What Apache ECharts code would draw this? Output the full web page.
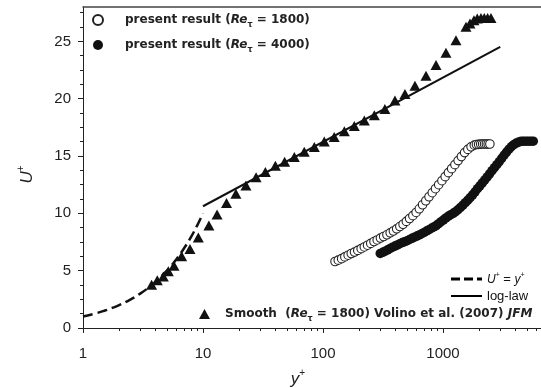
<!DOCTYPE html>
<html><head><meta charset="utf-8">
<script src="https://cdn.jsdelivr.net/npm/echarts@6/dist/echarts.min.js"></script>
<style>html,body{margin:0;padding:0;background:#fff}#c{width:541px;height:388px}</style>
</head><body><div id="c"></div>
<script>
// ---- tick labels ----
const xMajorTicks = [1, 10, 100, 1000];
const xMinorTicks = [2,3,4,5,6,7,8,9,20,30,40,50,60,70,80,90,200,300,400,500,600,700,800,900,2000,3000,4000,5000,6000];
const yTicks = [0, 5, 10, 15, 20, 25];

// ---- Smooth (Re_tau = 1800) Volino et al. (2007) JFM ----
const smoothX = [3.73,4.16,4.67,5.14,5.73,6.64,7.79,9.14,11.2,13.1,15.7,18.8,22.8,27.7,33.1,40.1,47.9,57.7,69.8,84.7,102.5,124,150.6,182.4,221,268,328,398,482,584,722,875,1059,1283,1555,1679,1812,1931,2073,2210,2355,2512];
const smoothU = [3.78,4.16,4.5,4.94,5.44,6.25,6.9,7.9,8.95,9.9,10.9,11.72,12.44,13.14,13.6,14.16,14.51,14.92,15.38,15.79,16.26,16.67,17.16,17.63,18.09,18.55,19.1,19.85,20.42,21.14,22.0,22.95,24.0,25.1,26.27,26.55,26.84,27.0,27.05,27.05,27.05,27.05];

// ---- present result (Re_tau = 1800), open circles ----
const re1800X = [126,134,143,152,162,172,183,195,208,221,235,250,266,283,301,320,341,363,386,411,437,465,495,527,561,597,635,676,719,765,814,866,921,980,1043,1110,1181,1257,1337,1423,1514,1611,1714,1824,1900,1980,2060,2140,2220,2300,2380,2460];
const re1800U = [5.8,5.92,6.05,6.2,6.35,6.5,6.62,6.77,6.92,7.07,7.22,7.38,7.54,7.68,7.84,7.98,8.13,8.3,8.46,8.65,8.85,9.05,9.3,9.55,9.8,10.08,10.4,10.75,11.1,11.45,11.8,12.15,12.5,12.85,13.2,13.55,13.9,14.25,14.6,14.95,15.3,15.58,15.8,15.95,16.0,16.02,16.04,16.05,16.05,16.05,16.05,16.05];

// ---- present result (Re_tau = 4000), filled circles ----
const re4000X = [300,315,330,346,363,380,398,417,437,458,480,503,527,552,578,606,635,665,697,730,765,801,839,879,921,965,1011,1059,1110,1163,1218,1276,1337,1400,1467,1537,1610,1687,1767,1851,1939,2032,2128,2230,2336,2447,2564,2686,2814,2948,3088,3235,3390,3551,3720,3898,4083,4278,4482,4695,4919,5153,5399,5656];
const re4000U = [6.5,6.6,6.7,6.82,6.94,7.05,7.15,7.25,7.35,7.45,7.53,7.62,7.72,7.82,7.92,8.02,8.12,8.22,8.34,8.46,8.58,8.7,8.82,8.93,9.1,9.27,9.44,9.6,9.75,9.88,10.0,10.15,10.33,10.52,10.72,10.93,11.15,11.38,11.62,11.88,12.15,12.4,12.65,12.92,13.18,13.45,13.72,13.98,14.25,14.52,14.8,15.08,15.35,15.6,15.83,16.0,16.13,16.22,16.28,16.3,16.3,16.3,16.3,16.3];

// ---- U+ = y+ (viscous sublayer) ----
const linearX = [1,1.25,1.5,1.75,2,2.5,3,3.5,4,5,6,7,8,9,10];
const linearU = [1,1.25,1.5,1.75,2,2.5,3,3.5,4,5,6,7,8,9,10];

// ---- log-law ----
const logLawX = [10, 3000];
const logLawU = [10.62, 24.53];

const zip = (a, b) => a.map((v, i) => [v, b[i]]);

const FF = '"Liberation Sans", Arial, sans-serif';
const LF = '"DejaVu Sans", sans-serif';
const rich = {
  sp: {width: 17},
  sp2: {width: 10},
  b: {fontFamily: LF, fontWeight: 'bold', fontSize: 12, color: '#222', lineHeight: 14, verticalAlign: 'middle'},
  bi: {fontFamily: LF, fontWeight: 'bold', fontStyle: 'italic', fontSize: 12, color: '#222', lineHeight: 14, verticalAlign: 'middle'},
  sub: {fontFamily: LF, fontWeight: 'bold', fontSize: 8, color: '#222', lineHeight: 18, verticalAlign: 'bottom'},
  n: {fontFamily: FF, fontSize: 13, color: '#111', lineHeight: 14, verticalAlign: 'bottom'},
  ni: {fontFamily: FF, fontSize: 12, fontStyle: 'italic', color: '#111', lineHeight: 14, verticalAlign: 'bottom'},
  sup: {fontFamily: FF, fontSize: 7, color: '#111', lineHeight: 4, verticalAlign: 'top'}
};
const legendText = {
  p1800: '{sp| }{b|present result (}{bi|Re}{sub|τ}{b| = 1800)}',
  p4000: '{sp| }{b|present result (}{bi|Re}{sub|τ}{b| = 4000)}',
  uy: '{ni|U}{sup|+}{n| = }{ni|y}{sup|+}',
  log: '{n|log-law}',
  smooth: '{sp2| }{b|Smooth  (}{bi|Re}{sub|τ}{b| = 1800) Volino et al. (2007) }{bi|JFM}'
};
const fmt = name => legendText[name];
const nameRich = {
  i: {fontFamily: FF, fontStyle: 'italic', fontSize: 17, color: '#222', lineHeight: 20, verticalAlign: 'bottom'},
  s: {fontFamily: FF, fontSize: 10, color: '#222', lineHeight: 4, verticalAlign: 'top'}
};

const chart = echarts.init(document.getElementById('c'), null, {renderer: 'canvas'});
chart.setOption({
  animation: false,
  backgroundColor: '#fff',
  grid: {left: 83, right: 0, top: 7, bottom: 60, containLabel: false, outerBoundsMode: 'none'},
  xAxis: [
    {
      type: 'log', logBase: 10, min: 1, max: 6560, position: 'bottom',
      axisLine: {show: true, lineStyle: {color: '#222', width: 1}},
      axisTick: {show: true, customValues: xMajorTicks, length: 5, lineStyle: {color: '#222'}},
      axisLabel: {customValues: xMajorTicks, margin: 18, fontSize: 15, fontFamily: FF, color: '#222',
                  formatter: v => String(Math.round(v))},
      splitLine: {show: false},
      name: '{i|y}{s|+}', nameLocation: 'middle', nameGap: 40,
      nameTextStyle: {rich: nameRich, padding: [0, 28, 0, 0]}
    },
    {
      type: 'log', logBase: 10, min: 1, max: 6560, position: 'bottom',
      axisLine: {show: false},
      axisTick: {show: true, customValues: xMinorTicks, length: 3, lineStyle: {color: '#222'}},
      axisLabel: {show: false}, splitLine: {show: false}
    },
    {
      type: 'log', logBase: 10, min: 1, max: 6560, position: 'top',
      axisLine: {show: true, lineStyle: {color: '#444', width: 1.5}},
      axisTick: {show: false}, axisLabel: {show: false}, splitLine: {show: false}
    }
  ],
  yAxis: {
    type: 'value', min: 0, max: 28, interval: 5,
    axisLine: {show: true, lineStyle: {color: '#222', width: 1}},
    axisTick: {show: true, customValues: yTicks, length: 5, lineStyle: {color: '#222'}},
    minorTick: {show: true, splitNumber: 4, length: 3, lineStyle: {color: '#222'}},
    axisLabel: {customValues: yTicks, margin: 12, fontSize: 15, fontFamily: FF, color: '#222'},
    splitLine: {show: false},
    name: '{i|U}{s|+}', nameLocation: 'middle', nameGap: 47,
    nameTextStyle: {rich: nameRich, padding: [0, 14, 0, 0]}
  },
  legend: [
    {data: ['p1800', 'p4000'], left: 92, top: 14, padding: 0, orient: 'vertical', itemWidth: 10, itemHeight: 10,
     itemGap: 10, selectedMode: false, formatter: fmt, textStyle: {rich: rich}},
    {data: [
       {name: 'uy', icon: 'path://M0,0h9v3h-9zM13,0h9v3h-9zM26,0h5v3h-5z'},
       {name: 'log', icon: 'path://M0,0h31v2h-31z'}
     ],
     left: 451, top: 272, padding: 0, orient: 'vertical', itemWidth: 31, itemHeight: 3,
     itemGap: 4, selectedMode: false, formatter: fmt, textStyle: {rich: rich},
     itemStyle: {borderWidth: 0, color: '#000', opacity: 1}},
    {data: ['smooth'], left: 199, top: 308, padding: 0, itemWidth: 11, itemHeight: 10,
     selectedMode: false, formatter: fmt, textStyle: {rich: rich}}
  ],
  series: [
    {type: 'line', name: 'uy', data: zip(linearX, linearU), symbol: 'none', smooth: true,
     lineStyle: {type: [10, 5], width: 2.5, color: '#111'}, itemStyle: {color: '#111'}},
    {type: 'line', name: 'log', data: zip(logLawX, logLawU), symbol: 'none',
     lineStyle: {width: 2, color: '#111'}, itemStyle: {color: '#111'}},
    {type: 'scatter', name: 'smooth', data: zip(smoothX, smoothU), symbol: 'triangle', symbolSize: [11, 10],
     itemStyle: {color: '#111', opacity: 1}},
    {type: 'scatter', name: 'p1800', data: zip(re1800X, re1800U), symbol: 'circle', symbolSize: 8.5,
     itemStyle: {color: '#fff', borderColor: '#222', borderWidth: 1.1, opacity: 1}},
    {type: 'scatter', name: 'p4000', data: zip(re4000X, re4000U), symbol: 'circle', symbolSize: 9.5,
     itemStyle: {color: '#111', opacity: 1}}
  ]
});
</script>
</body></html>
